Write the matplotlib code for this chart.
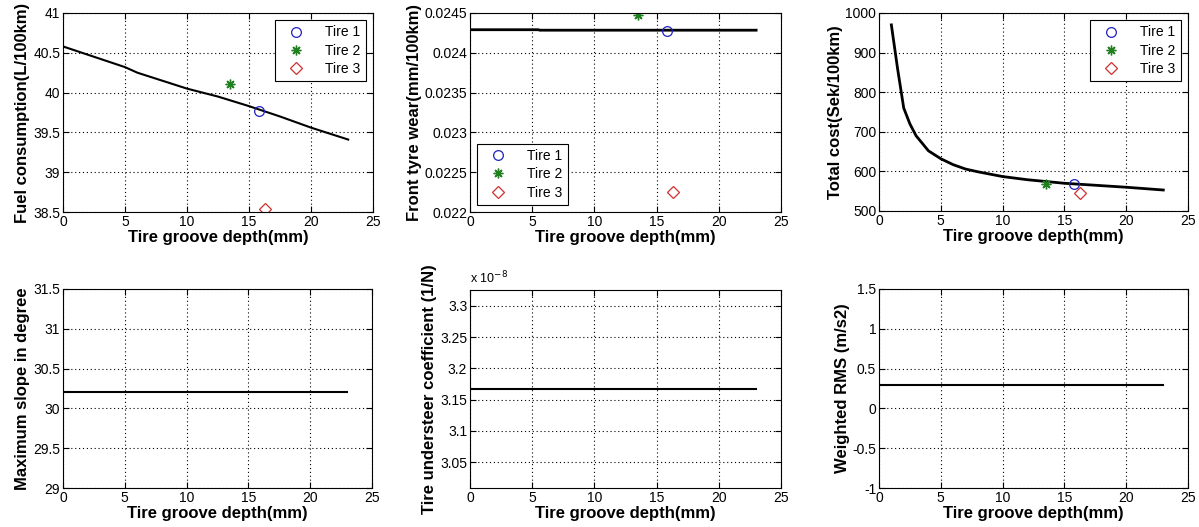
import numpy as np
import matplotlib
matplotlib.use("Agg")
import matplotlib.pyplot as plt

plt.rcParams['font.family'] = ['Liberation Sans', 'DejaVu Sans']

# ---- data ----
depth_fuel = [0, 2.5, 5, 6, 10, 12.5, 15, 17.5, 20, 23]
fuel = [40.58, 40.45, 40.32, 40.25, 40.05, 39.95, 39.83, 39.70, 39.56, 39.41]

depth_wear = [0, 5.5, 5.6, 23]
wear = [0.024290, 0.024290, 0.024284, 0.024284]

depth_cost = [1, 1.5, 2, 2.5, 3, 4, 5, 6, 7, 8, 10, 12, 15, 17.5, 20, 23]
cost = [970, 860, 760, 720, 690, 652, 632, 617, 606, 599, 587, 579, 570, 565, 560, 553]

depth_const = [0, 23]
slope = [30.2, 30.2]
understeer = [3.167e-8, 3.167e-8]
rms = [0.29, 0.29]

tire_depth = [15.8, 13.5, 16.3]
tire_fuel = [39.77, 40.11, 38.54]
tire_wear = [0.02427, 0.02448, 0.02225]
tire_cost = [567, 568, 545]
tire_names = ["Tire 1", "Tire 2", "Tire 3"]

W, H = 1199, 527
fig = plt.figure(figsize=(W / 100, H / 100), dpi=100)

def axes_px(l, r, t, b):
    return fig.add_axes([l / W, 1 - b / H, (r - l) / W, (b - t) / H])

boxes = [
    (63, 373, 13, 212), (470, 781, 13, 212), (879, 1188, 13, 211),
    (63, 372, 289, 488), (470, 781, 290, 488), (879, 1188, 289, 488),
]
axs = [axes_px(*b) for b in boxes]

def style(ax, ylabel):
    ax.set_xlim(0, 25)
    ax.set_xticks([0, 5, 10, 15, 20, 25])
    ax.grid(True, linestyle=(0, (1, 2.5)), color='black', linewidth=0.8)
    ax.tick_params(direction='in', labelsize=10, length=4, top=True, right=True, pad=2)
    ax.set_xlabel("Tire groove depth(mm)", fontsize=12, fontweight='bold', labelpad=1)
    ax.set_ylabel(ylabel, fontsize=12, fontweight='bold', labelpad=2)
    for s in ax.spines.values():
        s.set_linewidth(0.8)

def tires(ax, ys, loc):
    h1, = ax.plot(tire_depth[0], ys[0], 'o', mfc='none', mec='#2020c0', ms=7, mew=0.9, linestyle='none')
    h2, = ax.plot(tire_depth[1], ys[1], marker=(8, 2, 0), color='#208020', ms=7, mew=1.0, linestyle='none')
    h3, = ax.plot(tire_depth[2], ys[2], 'D', mfc='none', mec='#d03030', ms=6, mew=0.9, linestyle='none')
    leg = ax.legend([h1, h2, h3], tire_names, loc=loc, fontsize=10, fancybox=False,
                    edgecolor='black', framealpha=1, handlelength=2.2, borderpad=0.4,
                    labelspacing=0.3, handletextpad=1.0)
    leg.get_frame().set_linewidth(0.8)

# Panel 1
ax = axs[0]
ax.plot(depth_fuel, fuel, color='black', lw=1.5)
tires(ax, tire_fuel, 'upper right')
ax.set_ylim(38.5, 41)
ax.set_yticks([38.5, 39, 39.5, 40, 40.5, 41])
ax.set_yticklabels(['38.5', '39', '39.5', '40', '40.5', '41'])
style(ax, "Fuel consumption(L/100km)")

# Panel 2
ax = axs[1]
ax.plot(depth_wear, wear, color='black', lw=2)
tires(ax, tire_wear, 'lower left')
ax.set_ylim(0.022, 0.0245)
ax.set_yticks([0.022, 0.0225, 0.023, 0.0235, 0.024, 0.0245])
ax.set_yticklabels(['0.022', '0.0225', '0.023', '0.0235', '0.024', '0.0245'])
style(ax, "Front tyre wear(mm/100km)")

# Panel 3
ax = axs[2]
ax.plot(depth_cost, cost, color='black', lw=2)
tires(ax, tire_cost, 'upper right')
ax.set_ylim(500, 1000)
ax.set_yticks([500, 600, 700, 800, 900, 1000])
style(ax, "Total cost(Sek/100km)")

# Panel 4
ax = axs[3]
ax.plot(depth_const, slope, color='black', lw=1.5)
ax.set_ylim(29, 31.5)
ax.set_yticks([29, 29.5, 30, 30.5, 31, 31.5])
ax.set_yticklabels(['29', '29.5', '30', '30.5', '31', '31.5'])
style(ax, "Maximum slope in degree")

# Panel 5
ax = axs[4]
ax.plot(depth_const, understeer, color='black', lw=1.5)
ax.set_ylim(understeer[0] * 0.95, understeer[0] * 1.05)
ticks = [3.05e-8, 3.1e-8, 3.15e-8, 3.2e-8, 3.25e-8, 3.3e-8]
ax.set_yticks(ticks)
ax.set_yticklabels(['3.05', '3.1', '3.15', '3.2', '3.25', '3.3'])
style(ax, "Tire understeer coefficient (1/N)")
ax.text(0.0, 1.02, r"x 10$^{-8}$", transform=ax.transAxes, fontsize=9, ha='left', va='bottom')

# Panel 6
ax = axs[5]
ax.plot(depth_const, rms, color='black', lw=1.5)
ax.set_ylim(-1, 1.5)
ax.set_yticks([-1, -0.5, 0, 0.5, 1, 1.5])
ax.set_yticklabels(['-1', '-0.5', '0', '0.5', '1', '1.5'])
style(ax, "Weighted RMS (m/s2)")

fig.savefig("out.png", dpi=100)
